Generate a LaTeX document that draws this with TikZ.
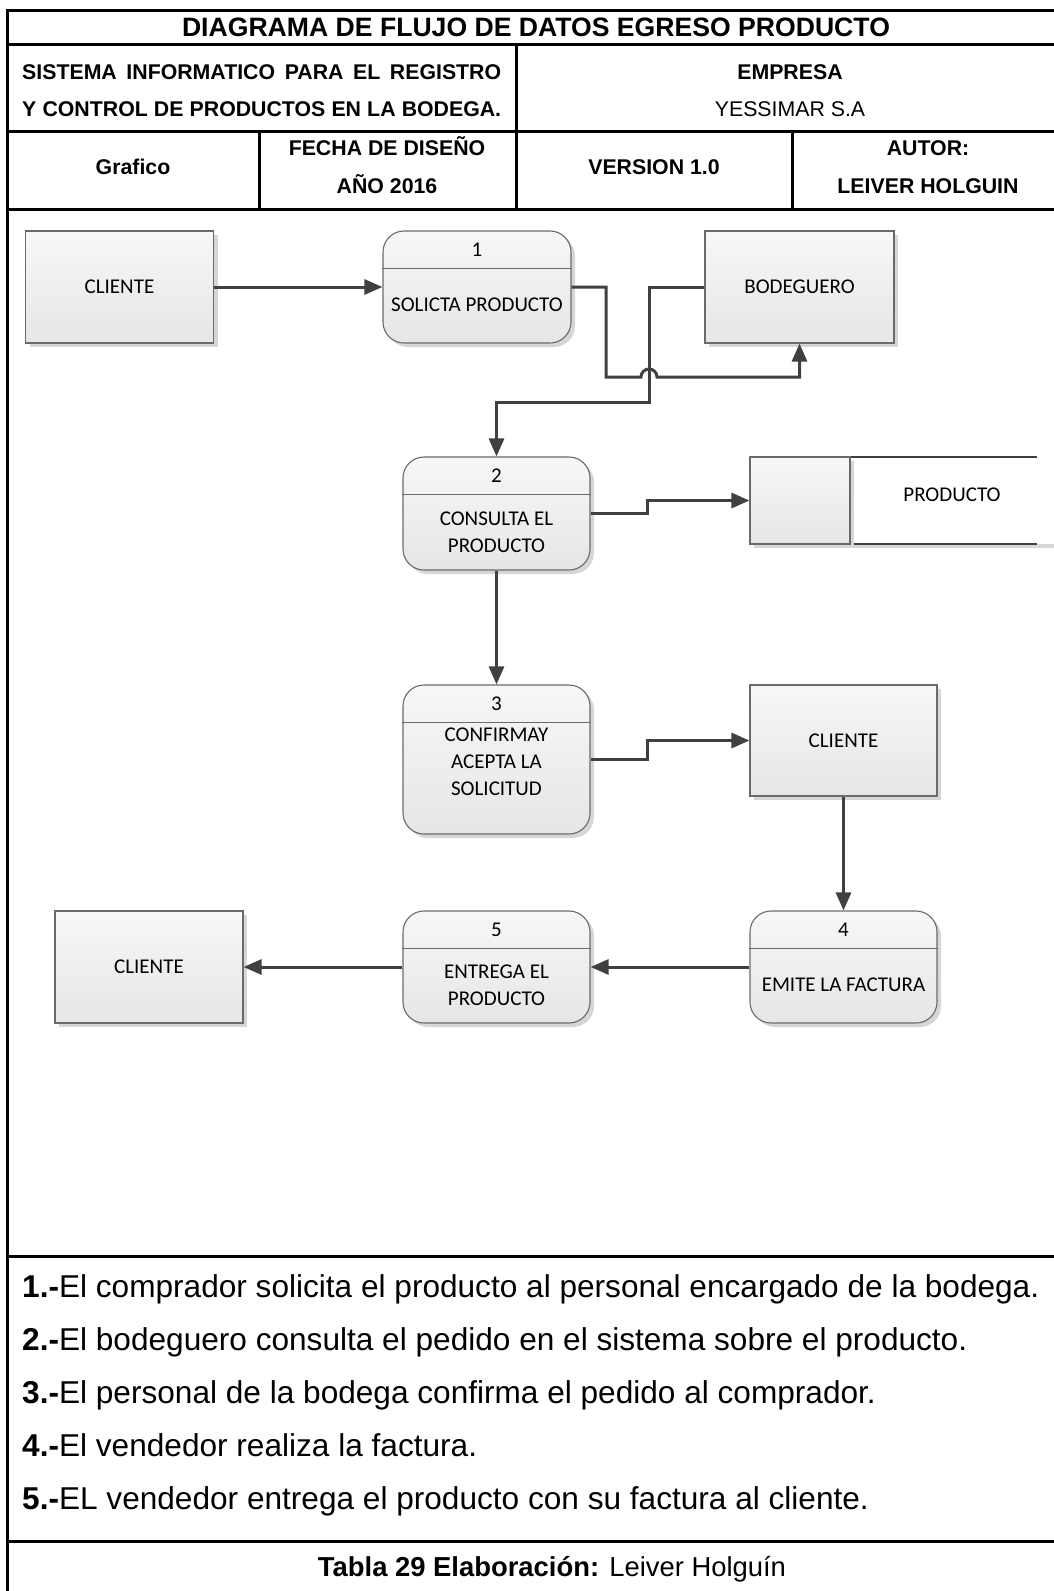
\documentclass[tikz,border=0pt]{standalone}
\usepackage{fontspec}
\setmainfont{Liberation Sans}
\newfontfamily\calfont{Carlito}
\usetikzlibrary{arrows.meta,shadows}
\definecolor{cline}{HTML}{404040}
\definecolor{bline}{HTML}{6A6A6A}
\definecolor{ftop}{HTML}{F7F7F7}
\definecolor{fbot}{HTML}{E6E6E6}
\definecolor{shd}{HTML}{D6D6D6}
\tikzset{
  frame/.style={line width=3pt, draw=black},
  flow/.style={draw=cline, line width=3pt, -{Triangle[length=18pt,width=15pt]}},
  ent/.style={draw=bline, line width=1.1pt, top color=ftop, bottom color=fbot,
    drop shadow={shadow xshift=4pt,shadow yshift=-4pt,fill=shd,opacity=1},
    minimum width=188pt, minimum height=112pt, inner sep=0pt,
    font=\calfont\fontsize{21}{27}\selectfont},
  proc/.style={ent, rounded corners=21pt},
  divl/.style={draw=bline, line width=1.1pt},
  lab/.style={font=\calfont\fontsize{21}{27}\selectfont, inner sep=0pt, align=center},
  hdb/.style={font=\bfseries\fontsize{21.3}{25}\selectfont, inner sep=0pt, anchor=base},
  hdr/.style={font=\fontsize{21.3}{25}\selectfont, inner sep=0pt, anchor=base},
  foot/.style={font=\fontsize{31.6}{36}\selectfont, inner sep=0pt, anchor=base west},
  storel/.style={draw=cline, line width=2.4pt},
}
\begin{document}
\begin{tikzpicture}[x=1pt,y=-1pt]
\useasboundingbox (0,0) rectangle (1054,1591);
% table frame
\draw[frame] (7,10) -- (1054,10);
\draw[frame] (7,8.5) -- (7,1591);
\draw[frame] (7,44) -- (1054,44);
\draw[frame] (7,131) -- (1054,131);
\draw[frame] (7,209) -- (1054,209);
\draw[frame] (7,1256) -- (1054,1256);
\draw[frame] (7,1541) -- (1054,1541);
\draw[frame] (516,44) -- (516,209);
\draw[frame] (259,131) -- (259,209);
\draw[frame] (792,131) -- (792,209);
% header texts
\node[font=\bfseries\fontsize{26.6}{30}\selectfont, inner sep=0pt, anchor=base] (title) at (536,36.5) {DIAGRAMA DE FLUJO DE DATOS EGRESO PRODUCTO};
\node[hdb, anchor=base west] (sis1) at (22,79.6) {\makebox[479pt][s]{SISTEMA INFORMATICO PARA EL REGISTRO}};
\node[hdb, anchor=base west] (sis2) at (22,116) {\makebox[479pt][s]{Y CONTROL DE PRODUCTOS EN LA BODEGA.}};
\node[hdb] (emp) at (790,79.6) {EMPRESA};
\node[hdr] (yes) at (790,116) {YESSIMAR S.A};
\node[hdb] (graf) at (133,174.6) {Grafico};
\node[hdb] (fecha) at (387,155.6) {FECHA DE DISEÑO};
\node[hdb] (anio) at (387,193.6) {AÑO 2016};
\node[hdb] (ver) at (654,174.6) {VERSION 1.0};
\node[hdb] (aut) at (928,155.6) {AUTOR:};
\node[hdb] (leiv) at (928,193.6) {LEIVER HOLGUIN};
% entities
\node[ent] (cl1) at (119.5,287) {CLIENTE};
\node[ent, minimum width=189pt] (bod) at (799.5,287) {BODEGUERO};
\node[ent, minimum width=187pt, minimum height=111pt] (cl2) at (843.5,740.5) {CLIENTE};
\node[ent] (cl3) at (149,967) {CLIENTE};
% processes
\node[proc] (p1) at (477,287) {};
\node[proc, minimum width=187pt, minimum height=113pt] (p2) at (496.5,513.5) {};
\node[proc, minimum width=187pt, minimum height=149pt] (p3) at (496.5,759.5) {};
\node[proc, minimum width=187pt] (p4) at (843.5,967) {};
\node[proc, minimum width=187pt] (p5) at (496.5,967) {};
\foreach \p in {p1,p2,p3,p4,p5}{
  \draw[divl] ([yshift=-38pt]\p.north west) -- ([yshift=-38pt]\p.north east);
}
\node[lab] (n1) at ([yshift=-19pt]p1.north) {1};
\node[lab] (t1) at (477,305) {SOLICTA PRODUCTO};
\node[lab] (n2) at ([yshift=-19pt]p2.north) {2};
\node[lab] (t2) at (496.5,532) {CONSULTA EL\\PRODUCTO};
\node[lab] (n3) at ([yshift=-19pt]p3.north) {3};
\node[lab] (t3) at (496.5,762) {CONFIRMAY\\ACEPTA LA\\SOLICITUD};
\node[lab] (n4) at ([yshift=-19pt]p4.north) {4};
\node[lab] (t4) at (843.5,985) {EMITE LA FACTURA};
\node[lab] (n5) at ([yshift=-19pt]p5.north) {5};
\node[lab] (t5) at (496.5,985) {ENTREGA EL\\PRODUCTO};
% data store
\fill[shd] (852,544) rectangle (1054,548);
\fill[white] (850,457) rectangle (1054,544);
\draw[storel] (850,457) -- (1037,457);
\draw[storel] (850,544) -- (1037,544);
\node[ent, minimum width=100pt, minimum height=87pt] (st) at (800,500.5) {};
\node[lab] (stt) at (952,495) {PRODUCTO};
% flows
\draw[flow] (cl1.east) -- (p1.west);
\draw[flow] (p1.east) -- (606,287) -- (606,377) -- (641,377)
   arc[start angle=180,end angle=360,radius=8] -- (799.5,377) -- (bod.south);
\draw[flow] (bod.west) -- (649,287) -- (649,402) -- (496.5,402) -- (p2.north);
\draw[flow] (p2.east) -- (647,513.5) -- (647,500.5) -- (st.west);
\draw[flow] (p2.south) -- (p3.north);
\draw[flow] (p3.east) -- (647,759.5) -- (647,740.5) -- (cl2.west);
\draw[flow] (cl2.south) -- (p4.north);
\draw[flow] (p4.west) -- (p5.east);
\draw[flow] (p5.west) -- (cl3.east);
% footer
\node[foot] (f1) at (22,1297) {\textbf{1.-}El comprador solicita el producto al personal encargado de la bodega.};
\node[foot] (f2) at (22,1350) {\textbf{2.-}El bodeguero consulta el pedido en el sistema sobre el producto.};
\node[foot] (f3) at (22,1403) {\textbf{3.-}El personal de la bodega confirma el pedido al comprador.};
\node[foot] (f4) at (22,1456) {\textbf{4.-}El vendedor realiza la factura.};
\node[foot] (f5) at (22,1509) {\textbf{5.-}EL vendedor entrega el producto con su factura al cliente.};
\node[font=\fontsize{27.4}{32}\selectfont, inner sep=0pt, anchor=base] (tabla) at (552,1576) {\textbf{Tabla 29 Elaboración:} Leiver Holguín};
\end{tikzpicture}
\end{document}
